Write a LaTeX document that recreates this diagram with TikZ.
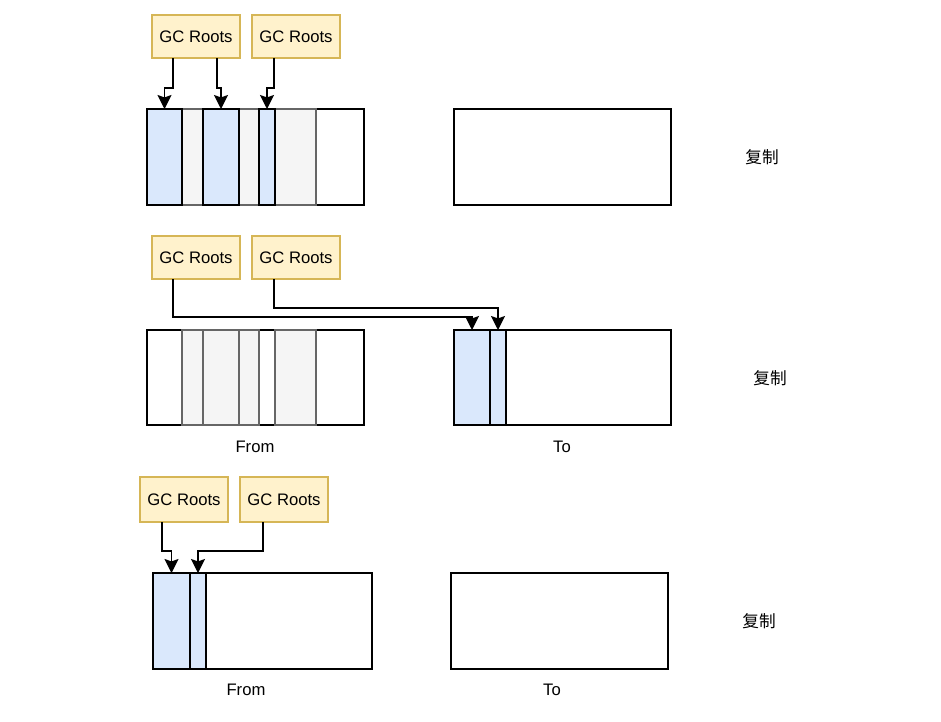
\documentclass[tikz,border=0pt]{standalone}
\usepackage{tikz}
\usepackage{xcolor}
\usepackage{fontspec}
\setmainfont{Liberation Sans}
\newfontfamily\cjk{Noto Sans CJK SC}
\usetikzlibrary{shapes,arrows,arrows.meta,positioning}
\definecolor{rootfill}{HTML}{FFF2CC}
\definecolor{rootline}{HTML}{D6B656}
\definecolor{vivofill}{HTML}{DAE8FC}
\definecolor{basurafill}{HTML}{F5F5F5}
\definecolor{basuraline}{HTML}{666666}
% celda: nombre, estilo, x1, y1, x2, y2, texto (en pixeles)
\newcommand{\celda}[7]{%
  \node[#2, minimum width={(#5-#3)*0.75pt}, minimum height={(#6-#4)*0.75pt}]
    (#1) at ({(#3+#5)/2},{(#4+#6)/2}) {#7};}

\begin{document}
\begin{tikzpicture}[x=0.75pt, y=-0.75pt,
    base/.style={rectangle, inner sep=0pt, outer sep=0pt, line width=1.1pt},
    raiz/.style={base, draw=rootline, fill=rootfill, font=\fontsize{12.5}{15}\selectfont},
    memoria/.style={base, draw=black, fill=white},
    vivo/.style={base, draw=black, fill=vivofill},
    basura/.style={base, draw=basuraline, fill=basurafill},
    etiqueta/.style={inner sep=0pt, font=\fontsize{12.5}{15}\selectfont},
    flecha/.style={line width=1.1pt, -{Stealth[length=10.5pt, width=10.5pt, inset=1.8pt]}}]
  \fill[white] (0,0) rectangle (941,721);
  \useasboundingbox (0,0) rectangle (941,721);

  % Paso 1: marcado en From
  \celda{ga1}{raiz}{152}{15}{240}{58}{GC Roots}
  \celda{ga2}{raiz}{252}{15}{340}{58}{GC Roots}
  \celda{froma}{memoria}{147}{109}{364}{205}{}
  \celda{basa1}{basura}{182}{109}{203}{205}{}
  \celda{basa2}{basura}{239}{109}{259}{205}{}
  \celda{basa3}{basura}{275}{109}{316}{205}{}
  \celda{viva1}{vivo}{147}{109}{182}{205}{}
  \celda{viva2}{vivo}{203}{109}{239}{205}{}
  \celda{viva3}{vivo}{259}{109}{275}{205}{}
  \celda{toa}{memoria}{454}{109}{671}{205}{}
  \node[etiqueta] (copiaa) at (762,157) {\cjk 复制};
  \draw[flecha] ([xshift=-23*0.75pt]ga1.south) -- ++(0,30) -| (viva1.north);
  \draw[flecha] ([xshift=21*0.75pt]ga1.south) -- ++(0,30) -| (viva2.north);
  \draw[flecha] ([xshift=-22*0.75pt]ga2.south) -- ++(0,30) -| (viva3.north);

  % Paso 2: copia a To
  \celda{gb1}{raiz}{152}{236}{240}{279}{GC Roots}
  \celda{gb2}{raiz}{252}{236}{340}{279}{GC Roots}
  \celda{fromb}{memoria}{147}{330}{364}{425}{}
  \celda{basb1}{basura}{182}{330}{203}{425}{}
  \celda{basb2}{basura}{203}{330}{239}{425}{}
  \celda{basb3}{basura}{239}{330}{259}{425}{}
  \celda{basb4}{basura}{275}{330}{316}{425}{}
  \celda{tob}{memoria}{454}{330}{671}{425}{}
  \celda{vivb1}{vivo}{454}{330}{490}{425}{}
  \celda{vivb2}{vivo}{490}{330}{506}{425}{}
  \node[etiqueta] (fromlb) at (255,447) {From};
  \node[etiqueta] (tolb) at (562,447) {To};
  \node[etiqueta] (copiab) at (770,378) {\cjk 复制};
  \draw[flecha] ([xshift=-23*0.75pt]gb1.south) -- ++(0,38) -| (vivb1.north);
  \draw[flecha] ([xshift=-22*0.75pt]gb2.south) -- ++(0,29) -| (vivb2.north);

  % Paso 3: intercambio From/To
  \celda{gc1}{raiz}{140}{477}{228}{522}{GC Roots}
  \celda{gc2}{raiz}{240}{477}{328}{522}{GC Roots}
  \celda{fromc}{memoria}{153}{573}{372}{669}{}
  \celda{vivc1}{vivo}{153}{573}{190}{669}{}
  \celda{vivc2}{vivo}{190}{573}{206}{669}{}
  \celda{toc}{memoria}{451}{573}{668}{669}{}
  \node[etiqueta] (fromlc) at (246,690) {From};
  \node[etiqueta] (tolc) at (552,690) {To};
  \node[etiqueta] (copiac) at (759,621) {\cjk 复制};
  \draw[flecha] ([xshift=-22*0.75pt]gc1.south) -- ++(0,29) -| (vivc1.north);
  \draw[flecha] ([xshift=-21*0.75pt]gc2.south) -- ++(0,29) -| (vivc2.north);
\end{tikzpicture}
\end{document}
